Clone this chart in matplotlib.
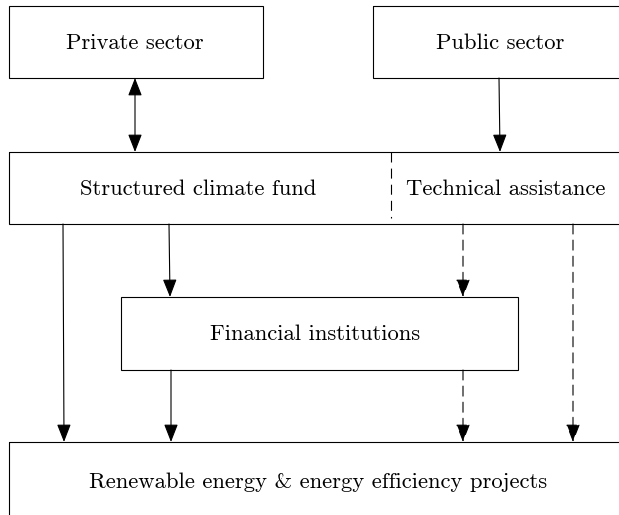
import matplotlib
matplotlib.use("Agg")
import matplotlib.pyplot as plt
from matplotlib.patches import Rectangle, FancyArrowPatch

plt.rcParams['font.family'] = ['cmr10', 'DejaVu Serif']
plt.rcParams['axes.unicode_minus'] = False

# Node labels
labels = ["Private sector", "Public sector", "Structured climate fund",
          "Technical assistance", "Financial institutions",
          "Renewable energy & energy efficiency projects"]

# Layout (pixel coordinates, y downward)
boxes = {
    "private": (9, 6, 254, 72),
    "public": (373, 6, 260, 72),
    "fund": (9, 152, 620, 72),
    "fin": (121, 297, 397, 73),
    "proj": (9, 442, 620, 80),
}
text_pos = [(135, 43), (500, 43), (198, 189), (506, 189), (315, 334), (318, 482)]

fig = plt.figure(figsize=(6.19, 5.15), dpi=100)
ax = fig.add_axes([0, 0, 1, 1])
ax.set_xlim(0, 619)
ax.set_ylim(515, 0)
ax.axis('off')

lw = 0.8
dash = (0, (9, 5.5))
for (x, y, w, h) in boxes.values():
    ax.add_patch(Rectangle((x, y), w, h, fill=False, edgecolor='black', linewidth=lw))

# dashed divider in fund box
ax.plot([391, 391], [152, 218], color='black', lw=lw, linestyle=dash)

for (tx, ty), lab in zip(text_pos, labels):
    ax.text(tx, ty, lab, ha='center', va='center', fontsize=16.3)

def arrow(x0, y0, x1, y1, dashed=False, both=False):
    style = '<|-|>' if both else '-|>'
    a = FancyArrowPatch((x0, y0), (x1, y1), arrowstyle=style + ',head_length=11,head_width=4.3',
                        mutation_scale=1, color='black', linewidth=lw,
                        shrinkA=0, shrinkB=0,
                        linestyle=dash if dashed else '-')
    ax.add_patch(a)

arrow(135, 78, 135, 152, both=True)
arrow(499, 78, 500, 152)
arrow(63, 224, 64, 442)
arrow(169, 224, 170, 297)
arrow(463, 224, 463, 297, dashed=True)
arrow(573, 224, 573, 442, dashed=True)
arrow(171, 370, 171, 442)
arrow(463, 370, 463, 442, dashed=True)

fig.savefig("out.png", dpi=100)
